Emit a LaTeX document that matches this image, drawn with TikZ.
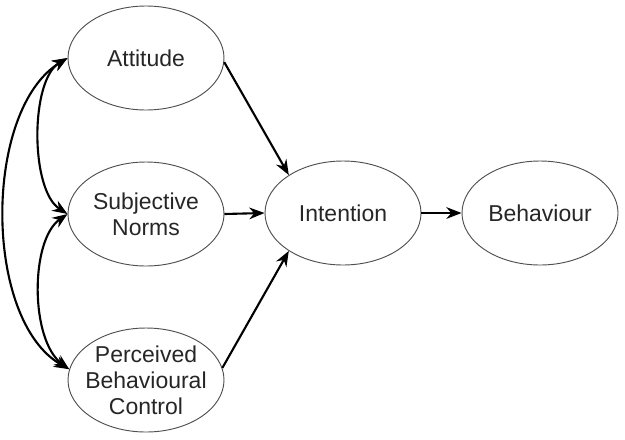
\documentclass[tikz,border=0pt]{standalone}
\usepackage{fontspec}
\setmainfont{Liberation Sans}
\usetikzlibrary{shapes.geometric,arrows.meta}
\definecolor{txt}{HTML}{262626}
\definecolor{edge}{HTML}{505050}
\begin{document}
\begin{tikzpicture}[x=0.03cm,y=-0.03cm,
  ell/.style={ellipse,draw=edge,line width=0.8pt,minimum width=4.68cm,minimum height=3.12cm,inner xsep=-10pt,inner ysep=0pt,align=center,text=txt,font=\fontsize{19.6}{22.2}\selectfont},
  conn/.style={line width=1.8pt,-{Stealth[length=13pt,width=10pt]}},
  biconn/.style={line width=1.8pt,{Stealth[length=13pt,width=10pt]}-{Stealth[length=13pt,width=10pt]}}]
\useasboundingbox (0,0) rectangle (625,439);
\node[ell] (att) at (146,58) {Attitude};
\node[ell] (sn) at (146,214) {Subjective\\Norms};
\node[ell] (pbc) at (146,380) {Perceived\\Behavioural\\Control};
\node[ell] (int) at (343,213) {Intention};
\node[ell] (beh) at (540,213) {Behaviour};
\draw[conn] (att.-3) -- (int.145);
\draw[conn] (sn.east) -- (int.west);
\draw[conn] (pbc.9) -- (int.-145);
\draw[conn] (int.east) -- (beh.west);
\draw[biconn] (att.west) .. controls (30,80) and (30,190) .. (sn.west);
\draw[biconn] (sn.west) .. controls (30,240) and (30,340) .. (pbc.172);
\draw[biconn] (att.west) .. controls (-17,110) and (-17,320) .. (pbc.172);
\end{tikzpicture}
\end{document}
